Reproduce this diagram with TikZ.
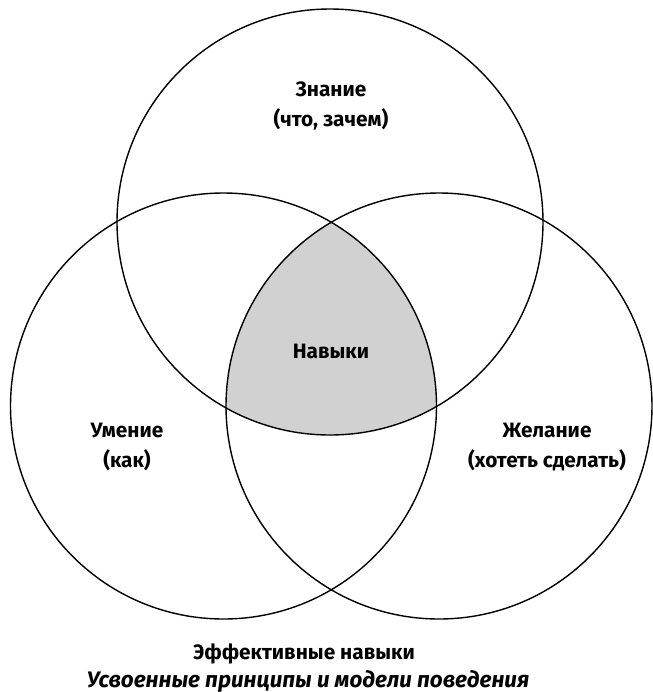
\documentclass[tikz,border=0pt]{standalone}
\usepackage{fontspec}
\setmainfont{Fira Sans}
\usepackage{tikz}

\tikzset{
  lbl/.style={font=\bfseries\fontsize{10.4}{15}\selectfont, align=center},
  ring/.style={line width=0.7pt}
}

\begin{document}
\begin{tikzpicture}[x=0.5pt, y=-0.5pt]
		\useasboundingbox (0,0) rectangle (653,692);
		% shaded common part
		\begin{scope}
			\clip (330,222) circle (106.5pt);
			\clip (223.5,406) circle (106.5pt);
			\fill[black!18] (439,406) circle (106.5pt);
		\end{scope}
		\draw[ring] (330,222) circle (106.5pt);
		\draw[ring] (223.5,406) circle (106.5pt);
		\draw[ring] (439,406) circle (106.5pt);
		\node[lbl] (znanie) at (331, 106) {Знание\\(что, зачем)};
		\node[lbl] (navyki) at (331, 351) {Навыки};
		\node[lbl] (umenie) at (127, 447) {Умение\\(как)};
		\node[lbl] (zhelanie) at (547, 447) {Желание\\(хотеть сделать)};
		\node[lbl] (effekt) at (304, 654) {Эффективные навыки};
		\node[lbl, font=\bfseries\itshape\fontsize{11.2}{15}\selectfont] (caption) at (308, 681) {Усвоенные принципы и модели поведения};
	\end{tikzpicture}
\end{document}
